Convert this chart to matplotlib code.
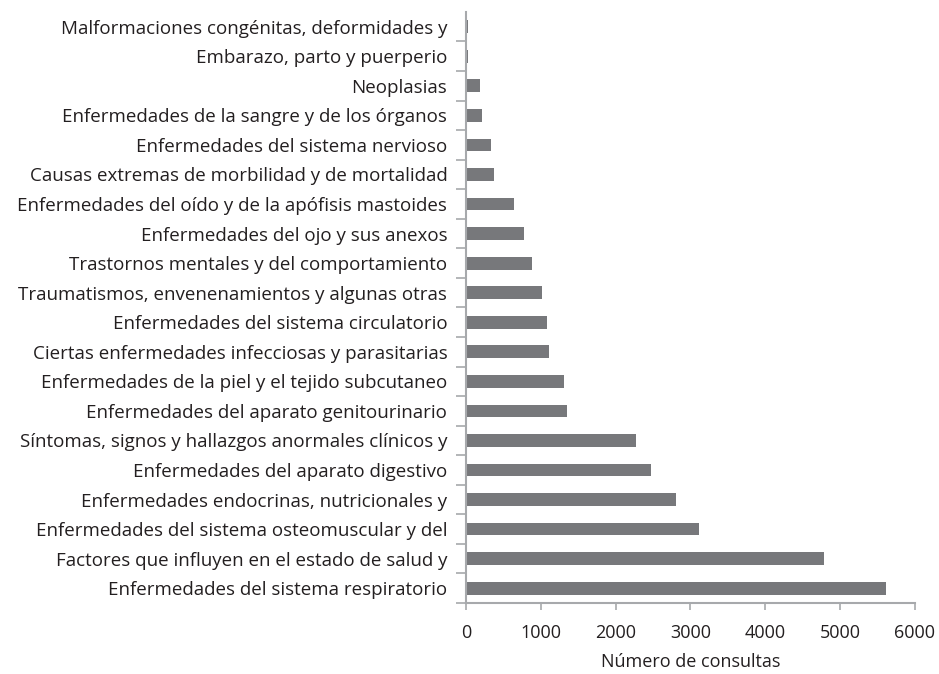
import matplotlib.pyplot as plt
import numpy as np

categorias = [
    "Enfermedades del sistema respiratorio",
    "Factores que influyen en el estado de salud y",
    "Enfermedades del sistema osteomuscular y del",
    "Enfermedades endocrinas, nutricionales y",
    "Enfermedades del aparato digestivo",
    "Síntomas, signos y hallazgos anormales clínicos y",
    "Enfermedades del aparato genitourinario",
    "Enfermedades de la piel y el tejido subcutaneo",
    "Ciertas enfermedades infecciosas y parasitarias",
    "Enfermedades del sistema circulatorio",
    "Traumatismos, envenenamientos y algunas otras",
    "Trastornos mentales y del comportamiento",
    "Enfermedades del ojo y sus anexos",
    "Enfermedades del oído y de la apófisis mastoides",
    "Causas extremas de morbilidad y de mortalidad",
    "Enfermedades del sistema nervioso",
    "Enfermedades de la sangre y de los órganos",
    "Neoplasias",
    "Embarazo, parto y puerperio",
    "Malformaciones congénitas, deformidades y",
]
consultas = [5610, 4790, 3115, 2810, 2470, 2270, 1350, 1315, 1105, 1080,
             1010, 885, 780, 635, 370, 330, 210, 190, 30, 30]

xticks = [0, 1000, 2000, 3000, 4000, 5000, 6000]

plt.rcParams['font.family'] = ['Open Sans', 'DejaVu Sans']

fig = plt.figure(figsize=(9.39, 6.74), dpi=100)
ax = fig.add_axes([0.4963, 0.1053, 0.4781, 0.877])

y = np.arange(len(categorias))
ax.barh(y, consultas, height=0.43, color='#77787b')

ax.set_ylim(-0.5, len(categorias) - 0.5)
ax.set_xlim(0, 6000)
ax.set_xticks(xticks)
ax.set_xticklabels([str(v) for v in xticks], fontsize=13, color='#231f20')
ax.set_yticks(y)
ax.set_yticklabels(categorias, fontsize=13.5, color='#231f20')
ax.set_yticks(np.arange(-0.5, len(categorias) - 1, 1.0), minor=True)
ax.tick_params(axis='y', which='major', length=0, pad=13.5)
ax.tick_params(axis='y', which='minor', length=7, width=1.2, color='#a7a9ac', direction='out')
ax.tick_params(axis='x', length=5, width=1.2, color='#a7a9ac', pad=10)

for s in ['top', 'right']:
    ax.spines[s].set_visible(False)
for s in ['left', 'bottom']:
    ax.spines[s].set_color('#a7a9ac')
    ax.spines[s].set_linewidth(1.5)

ax.set_xlabel("Número de consultas", fontsize=13, color='#231f20', labelpad=8)

fig.savefig("out.png", dpi=100)
